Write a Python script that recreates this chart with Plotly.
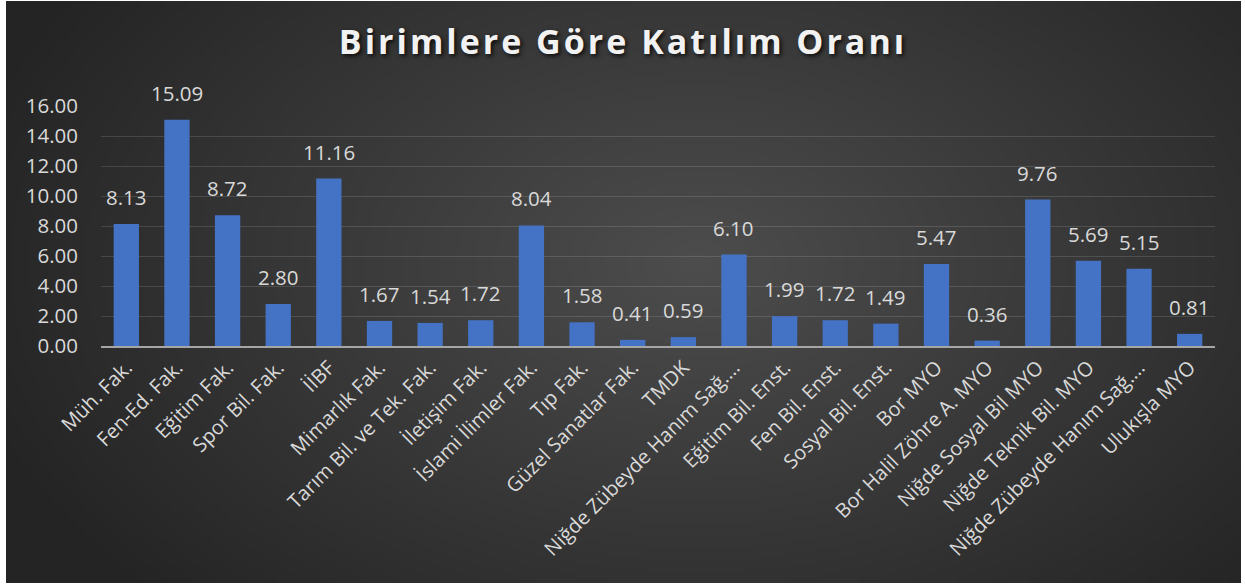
import base64
import struct
import zlib

import numpy as np
import plotly.graph_objects as go

# ---------------- data ----------------
categories = [
    "Müh. Fak.", "Fen-Ed. Fak.", "Eğitim Fak.", "Spor Bil. Fak.", "İİBF",
    "Mimarlık Fak.", "Tarım Bil. ve Tek. Fak.", "İletişim Fak.", "İslami İlimler Fak.",
    "Tıp Fak.", "Güzel Sanatlar Fak.", "TMDK", "Niğde Zübeyde Hanım Sağ.…",
    "Eğitim Bil. Enst.", "Fen Bil. Enst.", "Sosyal Bil. Enst.", "Bor MYO",
    "Bor Halil Zöhre A. MYO", "Niğde Sosyal Bil MYO", "Niğde Teknik Bil. MYO",
    "Niğde Zübeyde Hanım Sağ.…", "Ulukışla MYO",
]
values = [8.13, 15.09, 8.72, 2.80, 11.16, 1.67, 1.54, 1.72, 8.04, 1.58, 0.41,
          0.59, 6.10, 1.99, 1.72, 1.49, 5.47, 0.36, 9.76, 5.69, 5.15, 0.81]
y_ticks = [0, 2, 4, 6, 8, 10, 12, 14, 16]
title_text = "Birimlere Göre Katılım Oranı"

# ---------------- layout geometry ----------------
W, H = 1245, 586
ML, MR, MT, MB = 101, 30, 106, 240
PW, PH = W - ML - MR, H - MT - MB


# ---------------- background radial gradient (PNG data URI) ----------------
def make_png(arr):
    h, w, _ = arr.shape
    raw = b"".join(b"\x00" + arr[i].tobytes() for i in range(h))

    def chunk(tag, data):
        c = struct.pack(">I", len(data)) + tag + data
        return c + struct.pack(">I", zlib.crc32(tag + data) & 0xFFFFFFFF)

    return (b"\x89PNG\r\n\x1a\n"
            + chunk(b"IHDR", struct.pack(">IIBBBBB", w, h, 8, 2, 0, 0, 0))
            + chunk(b"IDAT", zlib.compress(raw, 9))
            + chunk(b"IEND", b""))


gw, gh = 300, 142
xx, yy = np.meshgrid(np.linspace(0, 1, gw), np.linspace(0, 1, gh))
d = np.sqrt(((xx - 0.56) / 0.62) ** 2 + ((yy - 0.45) / 0.85) ** 2)
d = np.clip(d, 0, 1)
c_in, c_out = 77.0, 36.0
g = (c_in + (c_out - c_in) * d).astype(np.uint8)
img = np.stack([g, g, g], axis=-1)
uri = "data:image/png;base64," + base64.b64encode(make_png(img)).decode()

x_idx = list(range(len(categories)))

fig = go.Figure()
fig.add_trace(go.Bar(
    x=x_idx,
    y=values,
    marker=dict(color="#4472C4", line=dict(width=0)),
    width=0.5,
    hoverinfo="x+y",
))

for xi, v in zip(x_idx, values):
    fig.add_annotation(
        x=xi, y=v, text=f"{v:.2f}", showarrow=False,
        yanchor="bottom", yshift=11,
        font=dict(family="Open Sans", size=20.5, color="#d9d9d9"),
    )

fig.add_layout_image(dict(
    source=uri, xref="paper", yref="paper",
    x=(6 - ML) / PW, y=(H - MB - 1) / PH,
    sizex=(1241 - 6) / PW, sizey=(583 - 1) / PH,
    xanchor="left", yanchor="top", sizing="stretch", layer="below",
))

fig.update_layout(
    width=W, height=H,
    margin=dict(l=ML, r=MR, t=MT, b=MB, pad=0),
    paper_bgcolor="white",
    plot_bgcolor="rgba(0,0,0,0)",
    showlegend=False,
    title=dict(
        text=title_text,
        x=(623) / W, xref="container", xanchor="center",
        y=1 - 42 / H, yref="container", yanchor="middle",
        font=dict(family="Open Sans", size=34, color="#f2f2f2", weight="bold",
                  shadow="2px 2px 4px rgba(0,0,0,0.8)"),
    ),
    bargap=0.5,
)

fig.update_xaxes(
    tickmode="array", tickvals=x_idx, ticktext=categories,
    tickangle=-45,
    range=[-0.5, len(categories) - 0.5],
    showgrid=False, zeroline=False,
    showline=True, linecolor="#a6a6a6", linewidth=2,
    ticks="",
    tickfont=dict(family="Open Sans", size=20, color="#d9d9d9"),
)
fig.update_yaxes(
    range=[0, 16],
    tickmode="array", tickvals=y_ticks,
    ticktext=[f"{t:.2f}" for t in y_ticks],
    showgrid=True, gridcolor="rgba(255,255,255,0.13)", gridwidth=1,
    zeroline=False, showline=False, ticks="",
    ticklabelstandoff=22,
    tickfont=dict(family="Open Sans", size=20.5, color="#d9d9d9"),
)

fig.write_html(
    "out.html",
    config={"displayModeBar": False},
    post_script=(
        "document.body.style.margin='0';document.body.style.padding='0';"
        "document.querySelectorAll('.gtitle').forEach(function(t){"
        "t.style.letterSpacing='3px';});"
    ),
)
